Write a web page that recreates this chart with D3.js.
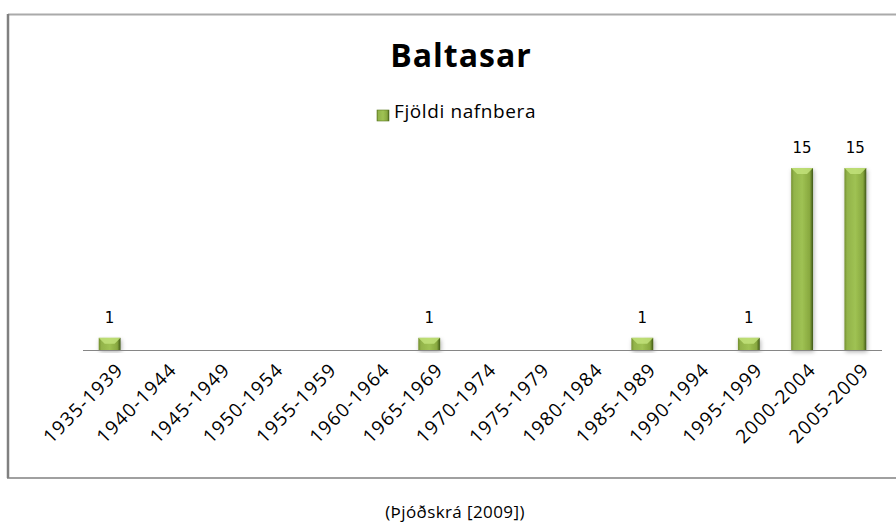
<!DOCTYPE html>
<html>
<head>
<meta charset="utf-8">
<script src="https://cdn.jsdelivr.net/npm/d3@7"></script>
<style>
body {margin:0;background:#fff;}
svg text {fill:#000;}
.title {font-family:"Open Sans",Lato,sans-serif;font-weight:bold;font-size:32px;letter-spacing:1px;}
.legend {font-family:"Open Sans",Lato,sans-serif;font-size:19px;letter-spacing:0.6px;}
.val {font-family:"DejaVu Sans",sans-serif;font-size:15px;}
#chart .tick text {font-family:"Open Sans",Lato,sans-serif;font-size:19px;letter-spacing:1.2px;}
.source {font-family:"Open Sans",Lato,sans-serif;font-size:17px;letter-spacing:0.4px;}
</style>
</head>
<body>
<svg id="chart" width="896" height="523"></svg>
<script>
// timabil og fjoldi nafnbera
var periods = ['1935-1939','1940-1944','1945-1949','1950-1954','1955-1959','1960-1964','1965-1969',
  '1970-1974','1975-1979','1980-1984','1985-1989','1990-1994','1995-1999','2000-2004','2005-2009']
var counts = [1,0,0,0,0,0,1,0,0,0,1,0,1,15,15]
var seriesName = 'Fjöldi nafnbera'
var chartTitle = 'Baltasar'
var sourceText = '(Þjóðskrá [2009])'

var svg = d3.select('#chart')

var defs = svg.append('defs')
var grad = defs.append('linearGradient').attr('id','barfill').attr('x1','0').attr('x2','1').attr('y1','0').attr('y2','0')
grad.append('stop').attr('offset','0%').attr('stop-color','#738f2e')
grad.append('stop').attr('offset','12%').attr('stop-color','#92b34a')
grad.append('stop').attr('offset','50%').attr('stop-color','#9fc253')
grad.append('stop').attr('offset','85%').attr('stop-color','#88a83f')
grad.append('stop').attr('offset','100%').attr('stop-color','#3f5716')
var shade = defs.append('filter').attr('id','shadow').attr('x','-30%').attr('y','-10%').attr('width','160%').attr('height','130%')
shade.append('feDropShadow').attr('dx',1).attr('dy',2).attr('stdDeviation',2).attr('flood-color','#000').attr('flood-opacity',0.3)

// ramminn
svg.append('line').attr('x1',8).attr('x2',896).attr('y1',14.5).attr('y2',14.5).attr('stroke','#aaa').attr('stroke-width',2)
svg.append('line').attr('x1',8).attr('x2',8).attr('y1',14).attr('y2',478).attr('stroke','#808080').attr('stroke-width',2.5)
svg.append('line').attr('x1',7).attr('x2',896).attr('y1',478).attr('y2',478).attr('stroke','#808080').attr('stroke-width',1.5)

var x = d3.scaleBand().domain(periods).range([83, 882]).paddingInner(0.59).paddingOuter(0.295)
var y = d3.scaleLinear().domain([0, 15]).range([350, 168])

svg.append('text').attr('class','title').attr('x',461).attr('y',67).attr('text-anchor','middle').text(chartTitle)

svg.append('rect').attr('x',377).attr('y',110).attr('width',12).attr('height',11).attr('fill','url(#barfill)').attr('stroke','#5c7a22').attr('stroke-width',0.6)
svg.append('text').attr('class','legend').attr('x',394).attr('y',118).text(seriesName)

var data = periods.map(function(p, i) { return {p: p, v: counts[i]} })
var bars = svg.append('g').selectAll('g').data(data.filter(function(d) { return d.v > 0 })).enter().append('g')

bars.append('rect')
  .attr('x', function(d) { return x(d.p) })
  .attr('y', function(d) { return y(d.v) })
  .attr('width', x.bandwidth())
  .attr('height', function(d) { return y(0) - y(d.v) })
  .attr('fill','url(#barfill)')
  .attr('filter','url(#shadow)')
// bevel ofan a sulunum
bars.append('path')
  .attr('d', function(d) {
    var x0 = x(d.p), w = x.bandwidth(), t = y(d.v), b = 6
    return 'M'+x0+','+t+'H'+(x0+w)+'L'+(x0+w-b)+','+(t+b)+'H'+(x0+b)+'Z'
  })
  .attr('fill','#c2e27a').attr('opacity',0.85)

svg.append('g').selectAll('text').data(data.filter(function(d) { return d.v > 0 })).enter().append('text')
  .attr('class','val')
  .attr('x', function(d) { return x(d.p) + x.bandwidth()/2 })
  .attr('y', function(d) { return y(d.v) - 15 })
  .attr('text-anchor','middle')
  .text(function(d) { return d.v })

var axis = svg.append('g').attr('transform','translate(0,350)')
  .call(d3.axisBottom(x).tickSize(0).tickPadding(0).tickSizeOuter(0))
axis.select('.domain').attr('stroke','#868686').attr('stroke-width',1.2).attr('d','M83,0.5H882')
axis.selectAll('.tick text')
  .attr('text-anchor','end')
  .attr('dy',null)
  .attr('y',0)
  .attr('transform','translate(15,21) rotate(-45)')

svg.append('text').attr('class','source').attr('x',455).attr('y',518).attr('text-anchor','middle').text(sourceText)
</script>
</body>
</html>
